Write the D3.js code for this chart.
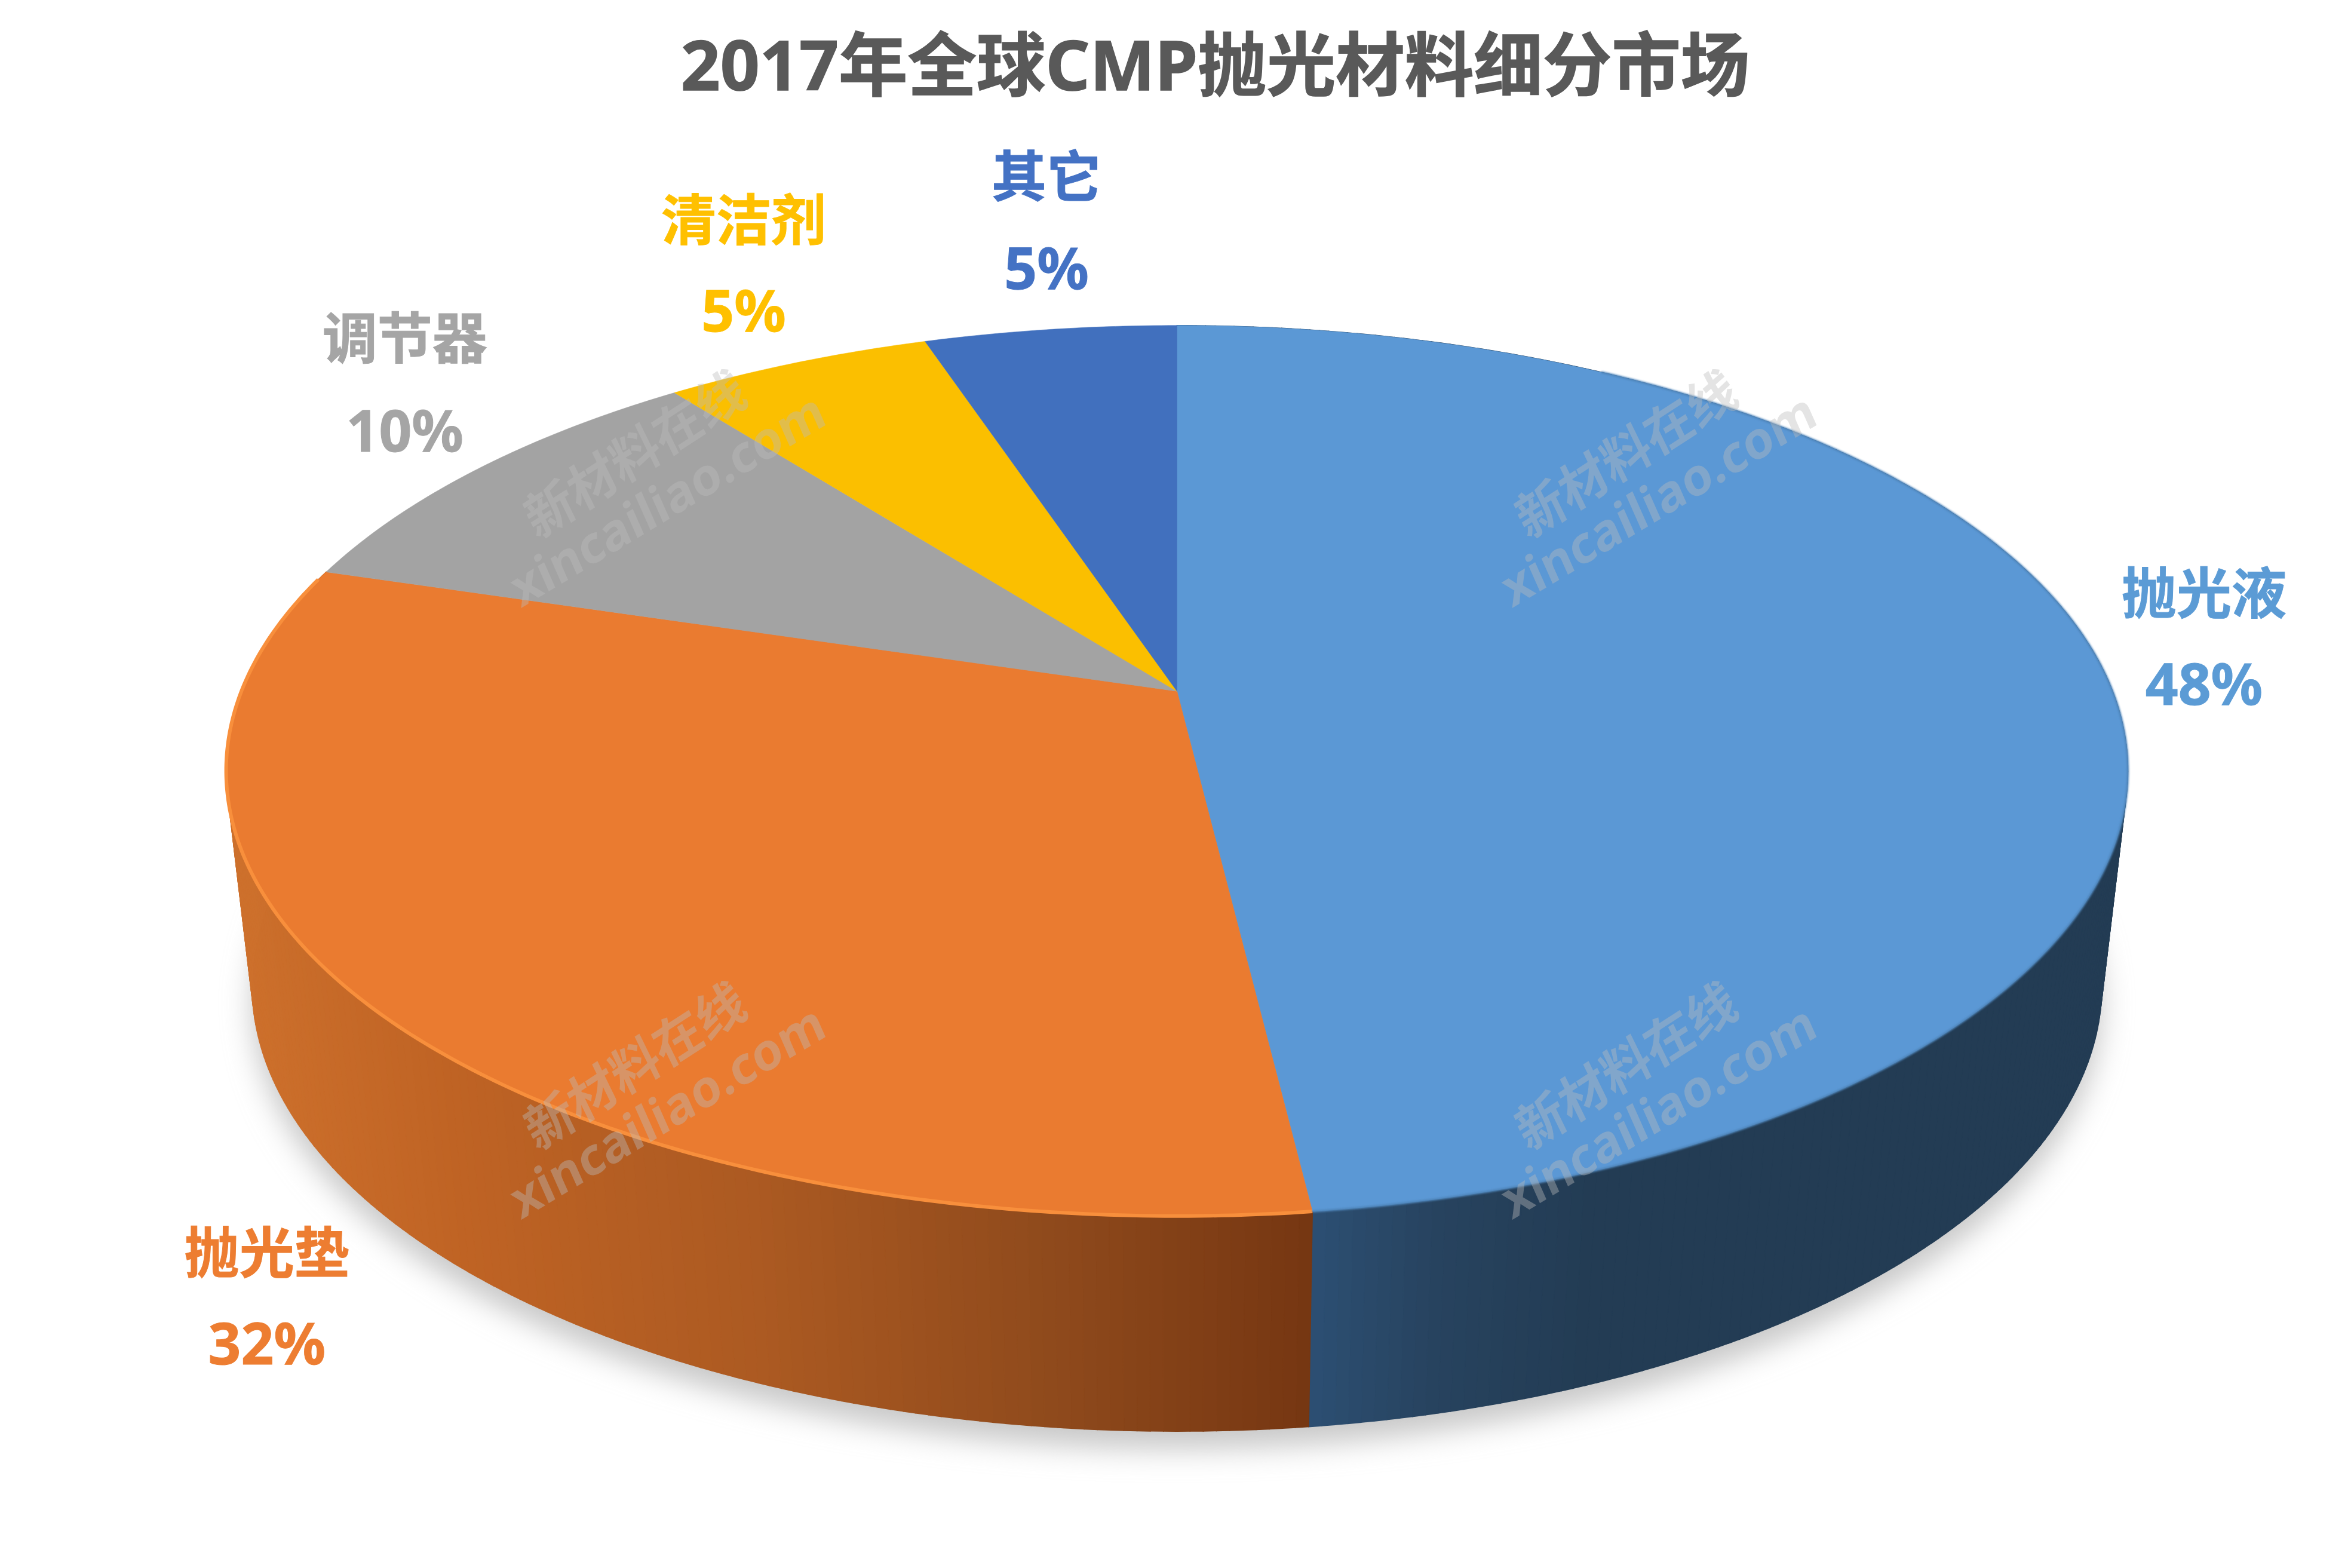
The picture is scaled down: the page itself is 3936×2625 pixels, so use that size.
<!DOCTYPE html>
<html><head><meta charset="utf-8">
<script src="https://cdn.jsdelivr.net/npm/d3@7"></script>
<style>html,body{margin:0;background:#fff}svg{display:block}
text{font-family:"Noto Sans","Noto Sans CJK SC",sans-serif;font-weight:700}</style></head>
<body><script>
const categories=["抛光液","抛光垫","调节器","清洁剂","其它"];
const shares=[48.1,31.6,9.8,5.4,5.1];
const percentLabels=["48%","32%","10%","5%","5%"];
const titleText="2017年全球CMP抛光材料细分市场";
const colors=["#5B98D5","#EA7B30","#A3A3A3","#FBBF00","#4170BE"];
const labelColors=["#5B9BD5","#ED7D31","#A5A5A5","#FFC000","#4472C4"];
const watermarkLines=["新材料在线","xincailiao.com"];

const W=3936,H=2625;
const f=W/1568;
const svg=d3.select("body").append("svg").attr("width",W).attr("height",H).attr("viewBox",`0 0 ${W} ${H}`);
const defs=svg.append("defs");
defs.append("filter").attr("id","soft").attr("x","-10%").attr("y","-10%").attr("width","120%").attr("height","120%")
  .append("feGaussianBlur").attr("stdDeviation",24);
defs.append("filter").attr("id","edge").attr("x","-5%").attr("y","-5%").attr("width","110%").attr("height","110%")
  .append("feGaussianBlur").attr("stdDeviation",1.5);

// perspective projection of a disc
const K=0.1785,CX=785*f;
const topDisc={y:461*f,a:287.5*f,b:624*f};
const botDisc={y:604*f,a:288*f,b:607*f};
const project=(d,t)=>{const u=Math.sin(t),v=-Math.cos(t),w=1-K*v;return [CX+d.b*u/w,d.y+d.a*v/w];};
const lineGen=d3.line();
const arcPts=(d,t0,t1)=>d3.range(0,1.0001,1/Math.max(2,Math.ceil((t1-t0)/0.01))).map(p=>project(d,t0+(t1-t0)*p));

const pieData=d3.pie().sort(null).value(d=>d)(shares);

// soft ground shadow
svg.append("path").attr("d",lineGen(arcPts(botDisc,0,2*Math.PI))+"Z")
  .attr("fill","#c8c8c8").attr("filter","url(#soft)").attr("transform","translate(0,30)");

// side wall shading follows screen x
const wallScales=[
  d3.scaleLinear().domain([874,960,1060,1420].map(x=>x*f)).range(["#2C4F73","#27435F","#233C54","#233C54"]),
  d3.scaleLinear().domain([151,300,500,700,874].map(x=>x*f)).range(["#CD702C","#BF6324","#AC5A22","#8F4A1C","#763712"])
];
const wallG=svg.append("g");
[0,1].forEach(i=>{
  const p=pieData[i],n=Math.ceil((p.endAngle-p.startAngle)/0.012);
  const ang=d3.range(n+1).map(j=>p.startAngle+(p.endAngle-p.startAngle)*j/n);
  d3.pairs(ang).forEach(([a,b])=>{
    const q=[project(topDisc,a),project(topDisc,b),project(botDisc,b),project(botDisc,a)];
    const col=wallScales[i]((q[0][0]+q[1][0])/2);
    wallG.append("path").attr("d",lineGen(q)+"Z").attr("fill",col).attr("stroke",col).attr("stroke-width",1.5);
  });
});

// top surface
const topG=svg.append("g");
pieData.forEach((p,i)=>{
  const pts=[[CX,topDisc.y],...arcPts(topDisc,p.startAngle,p.endAngle)];
  topG.append("path").attr("d",lineGen(pts)+"Z").attr("fill",colors[i]).attr("stroke",colors[i]).attr("stroke-width",0.6);
});
// rim highlights
topG.append("path").attr("d",lineGen(arcPts(topDisc,pieData[1].startAngle,pieData[1].endAngle-0.02)))
  .attr("fill","none").attr("stroke","#F88F3C").attr("stroke-width",6);
topG.append("path").attr("d",lineGen(arcPts(topDisc,0.55,pieData[0].endAngle)))
  .attr("fill","none").attr("stroke","#4F86BC").attr("stroke-width",3.5).attr("filter","url(#edge)");

// title
svg.append("text").attr("x",810.5*f).attr("y",60*f).attr("text-anchor","middle")
  .attr("font-size",115.5).attr("fill","#595959").attr("stroke","#595959").attr("stroke-width",1.5).text(titleText);

// data labels
const labelAt=[[1470,409,470],[178,849,910],[270,239,301],[496,160,221],[698,131,193]];
categories.forEach((c,i)=>{
  const [x,y1,y2]=labelAt[i];
  [[c,y1,92],[percentLabels[i],y2,96]].forEach(([s,y,size])=>{
    svg.append("text").attr("x",x*f).attr("y",y*f).attr("text-anchor","middle").attr("font-size",size)
      .attr("fill",labelColors[i]).attr("stroke",labelColors[i]).attr("stroke-width",1).text(s);
  });
});

// watermarks
const marks=svg.append("g").attr("fill","#BBBBBB").attr("fill-opacity",0.4);
[0,661].forEach(dx=>[0,408].forEach(dy=>{
  marks.append("text").attr("transform",`translate(${(429+dx)*f},${(314+dy)*f}) rotate(-33) skewX(-7)`).attr("text-anchor","middle").attr("font-size",85).text(watermarkLines[0]);
  marks.append("text").attr("transform",`translate(${(450+dx)*f},${(344+dy)*f}) rotate(-31) skewX(-7)`).attr("text-anchor","middle").attr("font-size",84).text(watermarkLines[1]);
}));
</script></body></html>
